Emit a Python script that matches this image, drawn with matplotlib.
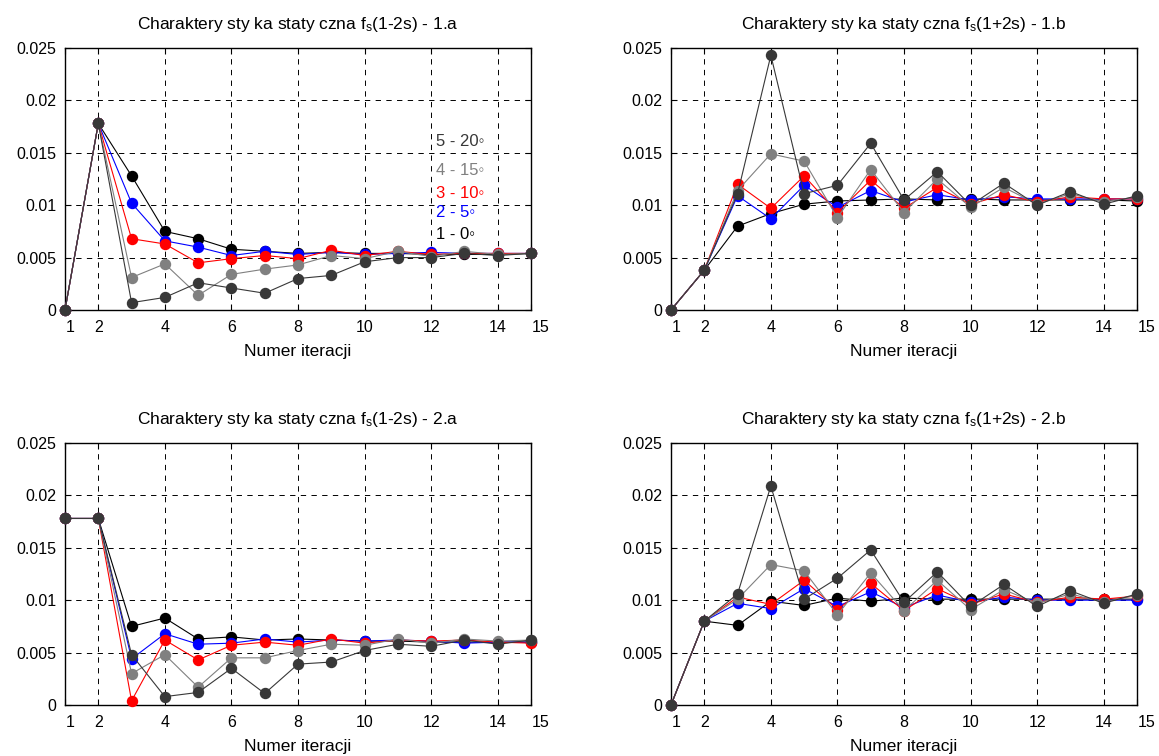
import matplotlib
matplotlib.use('Agg')
import matplotlib.pyplot as plt
import matplotlib.transforms as mtransforms

plt.rcParams['font.family'] = ['Liberation Sans', 'DejaVu Sans']
plt.rcParams['mathtext.fontset'] = 'custom'
plt.rcParams['mathtext.rm'] = 'Liberation Sans'
plt.rcParams['mathtext.default'] = 'rm'

iteracje = list(range(1, 16))
xticks = [1, 2, 4, 6, 8, 10, 12, 14, 15]
yticks = [0, 0.005, 0.01, 0.015, 0.02, 0.025]
yticklabels = ['0', '0.005', '0.01', '0.015', '0.02', '0.025']

kolory = ['#000000', '#0000ff', '#ff0000', '#808080', '#383838']
etykiety = ['1 - 0\u25e6', '2 - 5\u25e6', '3 - 10\u25e6', '4 - 15\u25e6', '5 - 20\u25e6']

# 1.a  f_s(1-2s)
a1_0 = [0, 0.0178, 0.0128, 0.0075, 0.0068, 0.0058, 0.0056, 0.0054, 0.0055, 0.0054, 0.0054, 0.0053, 0.0053, 0.0053, 0.0054]
a1_5 = [0, 0.0178, 0.0102, 0.0066, 0.0060, 0.0052, 0.0056, 0.0053, 0.0055, 0.0053, 0.0054, 0.0055, 0.0054, 0.0054, 0.0054]
a1_10 = [0, 0.0178, 0.0068, 0.0063, 0.0045, 0.0049, 0.0052, 0.0049, 0.0057, 0.0052, 0.0056, 0.0053, 0.0054, 0.0054, 0.0054]
a1_15 = [0, 0.0178, 0.0031, 0.0044, 0.0014, 0.0034, 0.0039, 0.0043, 0.0052, 0.0049, 0.0056, 0.0051, 0.0056, 0.0053, 0.0054]
a1_20 = [0, 0.0178, 0.0007, 0.0012, 0.0026, 0.0021, 0.0016, 0.0030, 0.0033, 0.0046, 0.0050, 0.0050, 0.0054, 0.0052, 0.0054]

# 1.b  f_s(1+2s)
b1_0 = [0, 0.0038, 0.0080, 0.0092, 0.0101, 0.0104, 0.0105, 0.0106, 0.0105, 0.0106, 0.0105, 0.0105, 0.0105, 0.0105, 0.0104]
b1_5 = [0, 0.0038, 0.0109, 0.0087, 0.0119, 0.0098, 0.0114, 0.0103, 0.0110, 0.0105, 0.0108, 0.0106, 0.0106, 0.0106, 0.0106]
b1_10 = [0, 0.0038, 0.0120, 0.0097, 0.0128, 0.0093, 0.0124, 0.0097, 0.0117, 0.0101, 0.0110, 0.0103, 0.0108, 0.0106, 0.0106]
b1_15 = [0, 0.0038, 0.0114, 0.0149, 0.0142, 0.0088, 0.0134, 0.0093, 0.0125, 0.0098, 0.0117, 0.0101, 0.0111, 0.0103, 0.0108]
b1_20 = [0, 0.0038, 0.0111, 0.0243, 0.0111, 0.0119, 0.0159, 0.0105, 0.0132, 0.0100, 0.0121, 0.0100, 0.0113, 0.0101, 0.0109]

# 2.a  f_s(1-2s)
a2_0 = [0.0178, 0.0178, 0.0075, 0.0083, 0.0063, 0.0065, 0.0062, 0.0063, 0.0062, 0.0061, 0.0061, 0.0060, 0.0060, 0.0060, 0.0060]
a2_5 = [0.0178, 0.0178, 0.0044, 0.0068, 0.0058, 0.0059, 0.0063, 0.0060, 0.0062, 0.0061, 0.0062, 0.0061, 0.0059, 0.0060, 0.0060]
a2_10 = [0.0178, 0.0178, 0.0004, 0.0062, 0.0043, 0.0057, 0.0060, 0.0057, 0.0063, 0.0059, 0.0062, 0.0061, 0.0062, 0.0060, 0.0059]
a2_15 = [0.0178, 0.0178, 0.0030, 0.0048, 0.0017, 0.0045, 0.0045, 0.0052, 0.0058, 0.0057, 0.0063, 0.0059, 0.0063, 0.0061, 0.0062]
a2_20 = [0.0178, 0.0178, 0.0048, 0.0008, 0.0012, 0.0035, 0.0011, 0.0039, 0.0041, 0.0052, 0.0058, 0.0056, 0.0062, 0.0058, 0.0062]

# 2.b  f_s(1+2s)
b2_0 = [0, 0.0080, 0.0076, 0.0099, 0.0095, 0.0102, 0.0099, 0.0102, 0.0101, 0.0101, 0.0101, 0.0101, 0.0101, 0.0101, 0.0101]
b2_5 = [0, 0.0080, 0.0097, 0.0092, 0.0111, 0.0094, 0.0108, 0.0093, 0.0105, 0.0098, 0.0103, 0.0100, 0.0100, 0.0100, 0.0100]
b2_10 = [0, 0.0080, 0.0103, 0.0096, 0.0119, 0.0091, 0.0116, 0.0090, 0.0111, 0.0096, 0.0106, 0.0098, 0.0103, 0.0101, 0.0104]
b2_15 = [0, 0.0080, 0.0101, 0.0134, 0.0128, 0.0086, 0.0126, 0.0090, 0.0119, 0.0091, 0.0110, 0.0097, 0.0106, 0.0098, 0.0105]
b2_20 = [0, 0.0080, 0.0106, 0.0209, 0.0101, 0.0121, 0.0148, 0.0098, 0.0127, 0.0094, 0.0115, 0.0094, 0.0109, 0.0097, 0.0106]

panele = [
    ('Charaktery sty ka staty czna f$_{s}$(1-2s) - 1.a', [a1_0, a1_5, a1_10, a1_15, a1_20]),
    ('Charaktery sty ka staty czna f$_{s}$(1+2s) - 1.b', [b1_0, b1_5, b1_10, b1_15, b1_20]),
    ('Charaktery sty ka staty czna f$_{s}$(1-2s) - 2.a', [a2_0, a2_5, a2_10, a2_15, a2_20]),
    ('Charaktery sty ka staty czna f$_{s}$(1+2s) - 2.b', [b2_0, b2_5, b2_10, b2_15, b2_20]),
]

W, H = 1159, 756
fig = plt.figure(figsize=(W / 100, H / 100), dpi=100)
# axes boxes in pixels: left, top, right, bottom
boxy = [(65, 48, 531, 310), (671, 48, 1137, 310),
        (65, 443, 531, 705), (671, 443, 1137, 705)]

for i, (tytul, serie) in enumerate(panele):
    l, t, r, b = boxy[i]
    ax = fig.add_axes([l / W, 1 - b / H, (r - l) / W, (b - t) / H])
    for seria, kol in zip(serie, kolory):
        ax.plot(iteracje, seria, '-o', color=kol, lw=0.8, ms=7.2, mec=kol,
                clip_on=False, zorder=3)
    ax.set_xlim(1, 15)
    ax.set_ylim(0, 0.025)
    ax.set_xticks(xticks)
    ax.set_yticks(yticks)
    ax.set_yticklabels(yticklabels)
    ax.grid(True, color='k', lw=0.7, linestyle=(0, (5.5, 5.5)))
    ax.set_axisbelow(True)
    ax.tick_params(direction='in', top=True, right=True, length=4,
                   labelsize=11.5, colors='k')
    ax.tick_params(axis='x', pad=7)
    ax.tick_params(axis='y', pad=6)
    for s in ax.spines.values():
        s.set_linewidth(1.0)
    # MATLAB-style shift of the end tick labels
    lbls = ax.get_xticklabels()
    lbls[0].set_transform(lbls[0].get_transform() +
                          mtransforms.ScaledTranslation(5 / 100, 0, fig.dpi_scale_trans))
    lbls[-1].set_transform(lbls[-1].get_transform() +
                           mtransforms.ScaledTranslation(10 / 100, 0, fig.dpi_scale_trans))
    ax.set_xlabel('Numer iteracji', fontsize=12.5, labelpad=7)
    ax.set_title(tytul, fontsize=12.5, pad=14)

    if i == 0:
        poz = [0.0072, 0.0093, 0.0111, 0.0133, 0.0161]
        for txt, kol, y in zip(etykiety, kolory, poz):
            ax.text(12.15, y, txt, color=kol, fontsize=12, va='center', ha='left')

fig.savefig('out.png', dpi=100)
